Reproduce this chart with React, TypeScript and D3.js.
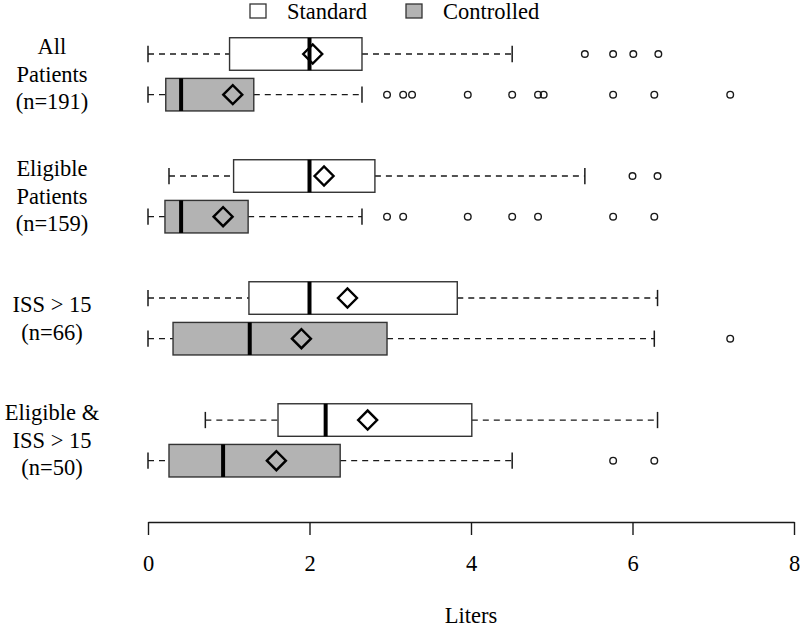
import * as d3 from "d3";
import { useEffect, useRef } from "react";

const groupLabels = [
  ["All", "Patients", "(n=191)"],
  ["Eligible", "Patients", "(n=159)"],
  ["ISS > 15", "(n=66)"],
  ["Eligible &", "ISS > 15", "(n=50)"],
];
const seriesNames = ["Standard", "Controlled"];
const seriesFill = ["#ffffff", "#b3b3b3"];

// [lower whisker, q1, median, q3, upper whisker, mean] per group
const standardStats = [
  [0, 1.01, 2.0, 2.65, 4.51, 2.04],
  [0.26, 1.06, 2.0, 2.81, 5.41, 2.18],
  [0, 1.25, 2.0, 3.83, 6.31, 2.47],
  [0.71, 1.61, 2.2, 4.01, 6.31, 2.72],
];
const controlledStats = [
  [0, 0.22, 0.41, 1.31, 2.65, 1.05],
  [0, 0.21, 0.41, 1.24, 2.65, 0.93],
  [0, 0.31, 1.26, 2.96, 6.27, 1.9],
  [0, 0.26, 0.93, 2.38, 4.51, 1.59],
];
const standardOutliers = [
  [5.41, 5.76, 6.01, 6.32],
  [6.0, 6.31],
  [],
  [],
];
const controlledOutliers = [
  [2.96, 3.16, 3.27, 3.96, 4.51, 4.83, 4.9, 5.76, 6.27, 7.21],
  [2.96, 3.16, 3.96, 4.51, 4.83, 5.76, 6.27],
  [7.21],
  [5.76, 6.27],
];
const xTicks = [0, 2, 4, 6, 8];

const FONT = "Liberation Serif, Tinos, DejaVu Serif, serif";
const FS = 22.5;

function drawChart(svgElement: SVGSVGElement) {
  const width = 800;
  const height = 627;
  const svg = d3.select(svgElement);
  svg.selectAll("*").remove();
  svg.attr("width", width).attr("height", height).attr("viewBox", `0 0 ${width} ${height}`)
    .style("font-family", FONT);

  const x = d3.scaleLinear().domain([0, 8]).range([148, 794]);
  const y = d3.scaleLinear().domain([1, 11]).range([54, 460.7]);
  const boxHalf = (y(2) - y(1)) * 0.4;
  const ink = "#1a1a1a";

  const boxes: { pos: number; s: number[]; out: number[]; fill: string }[] = [];
  groupLabels.forEach((_, g) => {
    boxes.push({ pos: 3 * g + 1, s: standardStats[g], out: standardOutliers[g], fill: seriesFill[0] });
    boxes.push({ pos: 3 * g + 2, s: controlledStats[g], out: controlledOutliers[g], fill: seriesFill[1] });
  });

  const plot = svg.append("g");
  boxes.forEach((b) => {
    const cy = y(b.pos);
    const [lo, q1, med, q3, hi, mean] = b.s;
    const g = plot.append("g");
    // whiskers
    [[lo, q1], [q3, hi]].forEach(([a, c]) => {
      g.append("line")
        .attr("x1", x(a)).attr("x2", x(c)).attr("y1", cy).attr("y2", cy)
        .attr("stroke", ink).attr("stroke-width", 1.3).attr("stroke-dasharray", "6,5");
    });
    [lo, hi].forEach((v) => {
      g.append("line")
        .attr("x1", x(v)).attr("x2", x(v))
        .attr("y1", cy - boxHalf / 2).attr("y2", cy + boxHalf / 2)
        .attr("stroke", ink).attr("stroke-width", 1.5);
    });
    g.append("rect")
      .attr("x", x(q1)).attr("y", cy - boxHalf)
      .attr("width", x(q3) - x(q1)).attr("height", boxHalf * 2)
      .attr("fill", b.fill).attr("stroke", "#333").attr("stroke-width", 1.4);
    g.append("line")
      .attr("x1", x(med)).attr("x2", x(med))
      .attr("y1", cy - boxHalf).attr("y2", cy + boxHalf)
      .attr("stroke", "#000").attr("stroke-width", 4);
    const d = 9.5;
    const mx = x(mean);
    g.append("path")
      .attr("d", `M${mx - d},${cy}L${mx},${cy - d}L${mx + d},${cy}L${mx},${cy + d}Z`)
      .attr("fill", "none").attr("stroke", "#000").attr("stroke-width", 2.4);
    g.selectAll("circle.out")
      .data(b.out)
      .join("circle")
      .attr("cx", (v) => x(v)).attr("cy", cy).attr("r", 3.3)
      .attr("fill", "none").attr("stroke", ink).attr("stroke-width", 1.4);
  });

  // group labels
  groupLabels.forEach((lines, g) => {
    const center = (y(3 * g + 1) + y(3 * g + 2)) / 2;
    const t = svg.append("text")
      .attr("text-anchor", "middle")
      .style("font-family", FONT).attr("font-size", FS).attr("fill", "#000");
    lines.forEach((line, i) => {
      t.append("tspan")
        .attr("x", 52)
        .attr("y", center + 7.5 + (i - (lines.length - 1) / 2) * 27.5)
        .text(line);
    });
  });

  // x axis
  const axisY = 522;
  const axis = svg.append("g").attr("transform", `translate(0,${axisY})`);
  axis.call(d3.axisBottom(x).tickValues(xTicks).tickSize(13).tickPadding(20).tickSizeOuter(0));
  axis.attr("font-family", null);
  axis.select(".domain").attr("stroke", ink).attr("stroke-width", 1.4);
  axis.selectAll(".tick line").attr("stroke", ink).attr("stroke-width", 1.4);
  axis.selectAll(".tick text")
    .style("font-family", FONT).attr("font-size", FS).attr("fill", "#000");

  svg.append("text")
    .attr("x", x(4)).attr("y", 623)
    .attr("text-anchor", "middle")
    .style("font-family", FONT).attr("font-size", FS)
    .text("Liters");

  // legend
  const legendItems = [
    { x: 250, tx: 287 },
    { x: 406, tx: 443 },
  ];
  legendItems.forEach((item, i) => {
    svg.append("rect")
      .attr("x", item.x).attr("y", 4).attr("width", 16).attr("height", 14)
      .attr("fill", seriesFill[i]).attr("stroke", "#333").attr("stroke-width", 1.3);
    svg.append("text")
      .attr("x", item.tx).attr("y", 19)
      .style("font-family", FONT).attr("font-size", FS)
      .text(seriesNames[i]);
  });
}

export default function App() {
  const svgRef = useRef<SVGSVGElement>(null);

  useEffect(() => {
    if (svgRef.current) drawChart(svgRef.current);
  }, []);

  return (
    <svg
      ref={svgRef}
      style={{ position: "absolute", left: 0, top: 0, background: "#fff" }}
      role="img"
      aria-label="Boxplot of liters by patient group"
    />
  );
}
